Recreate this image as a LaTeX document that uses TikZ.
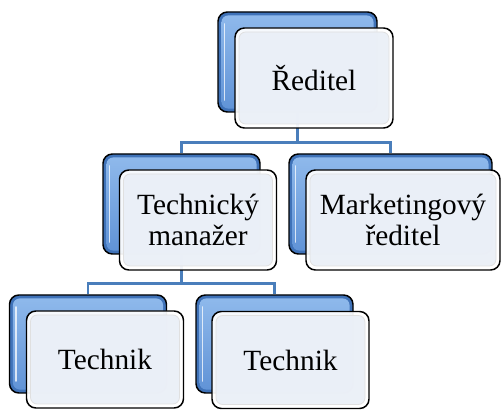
\documentclass[tikz,border=0pt]{standalone}
\usepackage{fontspec}
\setmainfont{Liberation Serif}
\usetikzlibrary{calc, positioning}

\definecolor{boxrim}{HTML}{3F72B8}
\definecolor{boxtop}{HTML}{90BAEC}
\definecolor{boxbottom}{HTML}{5F92D6}
\definecolor{cardfill}{HTML}{EAEFF7}
\definecolor{linkblue}{HTML}{4A7EBB}

\tikzset{
	back_box/.style={draw=black, line width=1.1pt, rounded corners=7pt, fill=boxrim, minimum width=117.75pt, minimum height=75pt,
		path picture={
			\shade[top color=boxtop, bottom color=boxbottom, rounded corners=5pt]
				([shift={(2.6pt,-2.6pt)}]path picture bounding box.north west) rectangle ([shift={(-2.6pt,2.6pt)}]path picture bounding box.south east);
			\draw[white, opacity=.75, line width=1.2pt, line cap=round]
				([shift={(4.8pt,-9pt)}]path picture bounding box.north west) -- ([shift={(4.8pt,9pt)}]path picture bounding box.south west);
		}},
	front_box/.style={draw=black, line width=1.1pt, rounded corners=7pt, fill=white, fill opacity=.93, text opacity=1, minimum width=117.75pt, minimum height=75pt, align=center, font=\fontsize{22}{23}\selectfont,
		path picture={
			\filldraw[fill=cardfill, draw=black!12, line width=.6pt, rounded corners=5pt]
				([shift={(3pt,-3pt)}]path picture bounding box.north west) rectangle ([shift={(-3pt,3pt)}]path picture bounding box.south east);
		}},
	link/.style={draw=linkblue, line width=2pt}
}

\begin{document}
\begin{tikzpicture}[x=.75pt, y=-.75pt]
				\useasboundingbox (0,0) rectangle (501,410);

				% blue cards behind
				\node (reditel_back) [back_box, minimum width=119.25pt] at (297.5,62) {};
				\node (technicky_back) [back_box] at (181.5,204) {};
				\node (marketing_back) [back_box, minimum width=152.25pt] at (390.5,204) {};
				\node (technik_a_back) [back_box, minimum height=73.5pt] at (88,344) {};
				\node (technik_b_back) [back_box, minimum height=73.5pt] at (274.5,344) {};

				% tree lines
				\draw[link] (reditel_back.south) -- ++(0,30) -| (technicky_back.north);
				\draw[link] (reditel_back.south) -- ++(0,30) -| (marketing_back.north);
				\draw[link] (technicky_back.south) -- ++(0,29) -| (technik_a_back.north);
				\draw[link] (technicky_back.south) -- ++(0,29) -| (technik_b_back.north);

				% white cards with the names
				\node (reditel) [front_box, minimum width=118.5pt] at ($(reditel_back)+(16.5,16)$) {Ředitel};
				\node (technicky) [front_box] at ($(technicky_back)+(16.5,16)$) {Technický\\manažer};
				\node (marketing) [front_box, minimum width=145.5pt] at ($(marketing_back)+(12.5,16)$) {Marketingový\\ředitel};
				\node (technik_a) [front_box, minimum height=72.75pt] at ($(technik_a_back)+(17,15.5)$) {Technik};
				\node (technik_b) [front_box, minimum height=72.75pt] at ($(technik_b_back)+(16,16)$) {Technik};
			\end{tikzpicture}
\end{document}
